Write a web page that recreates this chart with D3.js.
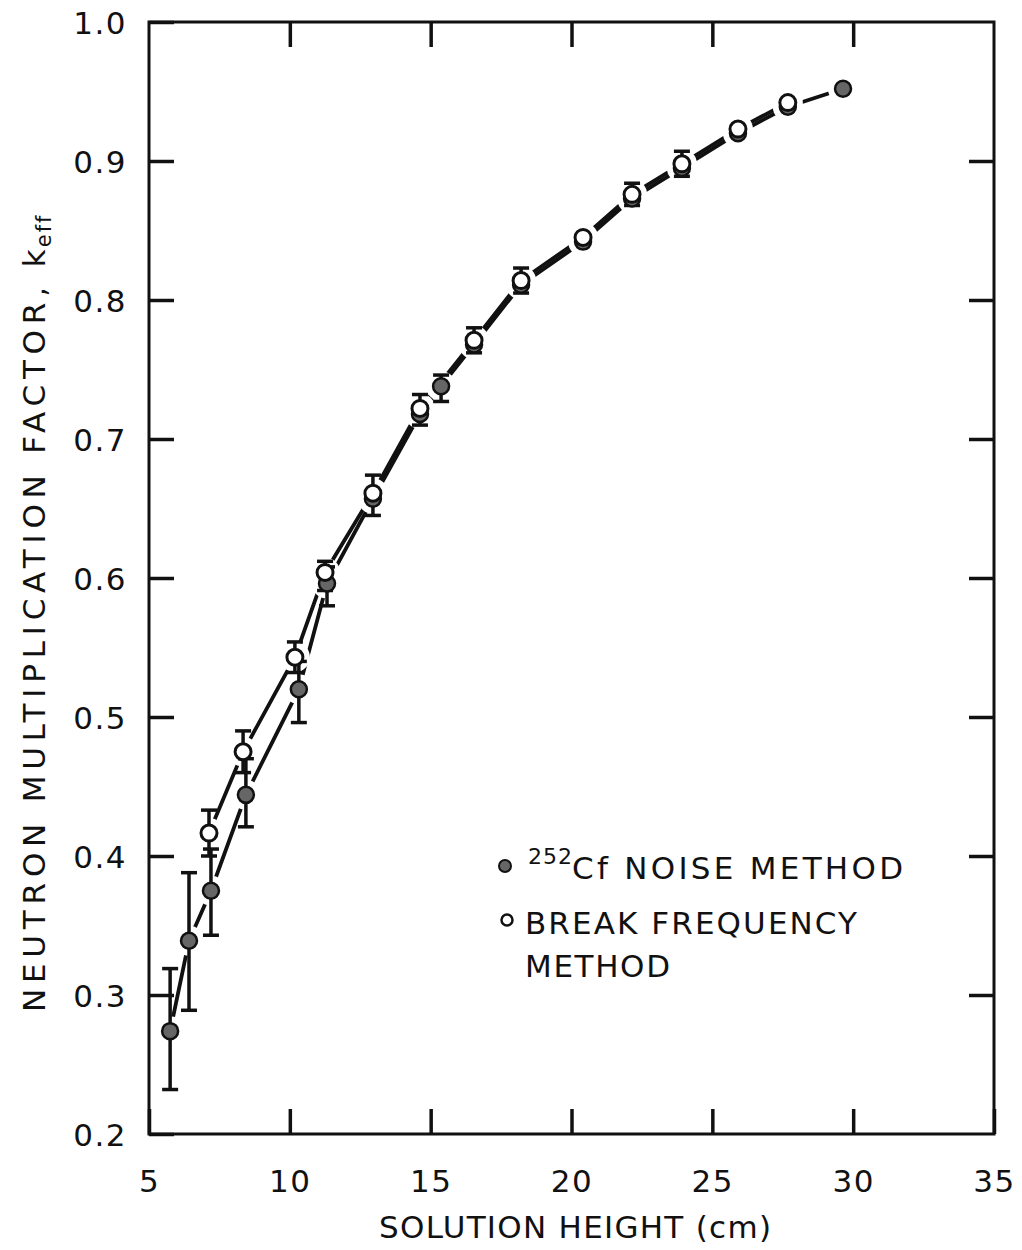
<!DOCTYPE html>
<html>
<head>
<meta charset="utf-8">
<script src="https://cdn.jsdelivr.net/npm/d3@7"></script>
<style>
  body { margin: 0; background: #fff; }
  svg { display: block; }
  text { font-family: "DejaVu Sans", sans-serif; fill: #111; }
</style>
</head>
<body>
<svg id="chart" width="1022" height="1250"></svg>
<script>
// 252Cf noise method: solution height (cm), k_eff, error-bar limits
const cfHeight = [5.75, 6.42, 7.20, 8.44, 10.32, 11.32, 12.95, 14.62, 15.37, 16.54, 18.21, 20.41, 22.15, 23.92, 25.91, 27.68, 29.64];
const cfK      = [0.274, 0.339, 0.375, 0.444, 0.520, 0.596, 0.657, 0.718, 0.738, 0.768, 0.811, 0.842, 0.873, 0.895, 0.920, 0.939, 0.952];
const cfLow    = [0.232, 0.289, 0.343, 0.421, 0.496, 0.580, null, null, 0.727, null, null, null, null, null, null, null, null];
const cfHigh   = [0.319, 0.388, 0.405, 0.470, 0.540, 0.608, null, null, 0.746, null, null, null, null, null, null, null, null];

// Break frequency method
const bfHeight = [7.13, 8.34, 10.18, 11.25, 12.95, 14.62, 16.54, 18.21, 20.41, 22.15, 23.92, 25.91, 27.68];
const bfK      = [0.4165, 0.475, 0.543, 0.604, 0.661, 0.722, 0.771, 0.814, 0.845, 0.876, 0.898, 0.923, 0.942];
const bfLow    = [0.400, 0.460, 0.532, 0.591, 0.645, 0.710, 0.762, 0.805, null, 0.868, 0.889, null, null];
const bfHigh   = [0.433, 0.490, 0.554, 0.612, 0.674, 0.732, 0.780, 0.823, null, 0.884, 0.907, null, null];

// Axis ticks and labels
const xTicks = [5, 10, 15, 20, 25, 30, 35];
const xTickLabels = ["5", "10", "15", "20", "25", "30", "35"];
const yTicks = [0.2, 0.3, 0.4, 0.5, 0.6, 0.7, 0.8, 0.9, 1.0];
const yTickLabels = ["0.2", "0.3", "0.4", "0.5", "0.6", "0.7", "0.8", "0.9", "1.0"];
const innerXTicks = [10, 15, 20, 25, 30];
const innerYTicks = [0.3, 0.4, 0.5, 0.6, 0.7, 0.8, 0.9];

const frameLeft = 149, frameRight = 994, frameTop = 22, frameBottom = 1134;
const svg = d3.select("#chart");

const x = d3.scaleLinear().domain([5, 35]).range([frameLeft, frameRight]);
const y = d3.scaleLinear().domain([0.2, 1.0]).range([frameBottom, frameTop]);

const cf = cfHeight.map((h, i) => ({ h, k: cfK[i], lo: cfLow[i], hi: cfHigh[i] }));
const bf = bfHeight.map((h, i) => ({ h, k: bfK[i], lo: bfLow[i], hi: bfHigh[i] }));

const TICK = 25;
function styleAxis(g) {
  g.select(".domain").remove();
  g.selectAll(".tick line").attr("stroke", "#111").attr("stroke-width", 3.5);
  g.selectAll(".tick text").attr("font-size", 31).attr("letter-spacing", 1.5)
    .style("font-family", '"DejaVu Sans", sans-serif').attr("fill", "#111");
}

// Bottom axis with labels
svg.append("g")
  .attr("transform", `translate(0,${frameBottom})`)
  .call(d3.axisBottom(x).tickValues(xTicks).tickSize(-TICK).tickPadding(0)
    .tickFormat((d, i) => xTickLabels[i]))
  .call(styleAxis)
  .call(g => g.selectAll(".tick text").attr("y", 58).attr("dy", 0));

// Left axis with labels
svg.append("g")
  .attr("transform", `translate(${frameLeft},0)`)
  .call(d3.axisLeft(y).tickValues(yTicks).tickSize(-TICK).tickPadding(22)
    .tickFormat((d, i) => yTickLabels[i]))
  .call(styleAxis)
  .call(g => g.selectAll(".tick text").attr("dy", "0.36em"));

// Top and right axes: inward ticks only
svg.append("g")
  .attr("transform", `translate(0,${frameTop})`)
  .call(d3.axisTop(x).tickValues(innerXTicks).tickSize(-TICK).tickFormat(""))
  .call(styleAxis);
svg.append("g")
  .attr("transform", `translate(${frameRight},0)`)
  .call(d3.axisRight(y).tickValues(innerYTicks).tickSize(-TICK).tickFormat(""))
  .call(styleAxis);

// Plot frame
svg.append("rect")
  .attr("x", frameLeft).attr("y", frameTop)
  .attr("width", frameRight - frameLeft).attr("height", frameBottom - frameTop)
  .attr("fill", "none").attr("stroke", "#111").attr("stroke-width", 3);

// Connecting curves
const line = d3.line().x(d => x(d.h)).y(d => y(d.k));
const plot = svg.append("g");
[cf, bf].forEach(series => {
  plot.append("path").datum(series)
    .attr("d", line)
    .attr("fill", "none").attr("stroke", "#111")
    .attr("stroke-width", 3.8).attr("stroke-linecap", "round");
});

// White halos open gaps in the curves around each point
plot.selectAll("circle.halo")
  .data(cf.concat(bf))
  .join("circle")
  .attr("class", "halo")
  .attr("cx", d => x(d.h)).attr("cy", d => y(d.k))
  .attr("r", 15).attr("fill", "#fff");

// Error bars
function errorBars(series) {
  const withErr = series.filter(d => d.lo != null);
  const g = plot.append("g").attr("stroke", "#111").attr("stroke-width", 3.5);
  g.selectAll("line.stem").data(withErr).join("line")
    .attr("class", "stem")
    .attr("x1", d => x(d.h)).attr("x2", d => x(d.h))
    .attr("y1", d => y(d.lo)).attr("y2", d => y(d.hi));
  g.selectAll("line.capLo").data(withErr).join("line")
    .attr("class", "capLo")
    .attr("x1", d => x(d.h) - 8).attr("x2", d => x(d.h) + 8)
    .attr("y1", d => y(d.lo)).attr("y2", d => y(d.lo));
  g.selectAll("line.capHi").data(withErr).join("line")
    .attr("class", "capHi")
    .attr("x1", d => x(d.h) - 8).attr("x2", d => x(d.h) + 8)
    .attr("y1", d => y(d.hi)).attr("y2", d => y(d.hi));
}
errorBars(cf);
errorBars(bf);

// Markers: filled for the 252Cf method, open for the break-frequency method
plot.selectAll("circle.cf").data(cf).join("circle")
  .attr("class", "cf")
  .attr("cx", d => x(d.h)).attr("cy", d => y(d.k))
  .attr("r", 8).attr("fill", "#666").attr("stroke", "#111").attr("stroke-width", 2.5);
plot.selectAll("circle.bf").data(bf).join("circle")
  .attr("class", "bf")
  .attr("cx", d => x(d.h)).attr("cy", d => y(d.k))
  .attr("r", 8).attr("fill", "#fff").attr("stroke", "#111").attr("stroke-width", 3);

// Legend
const legend = svg.append("g");
legend.append("circle").attr("cx", 505).attr("cy", 866).attr("r", 6)
  .attr("fill", "#666").attr("stroke", "#111").attr("stroke-width", 2);
legend.append("text")
  .attr("font-size", 22).attr("x", 528).attr("y", 864).attr("letter-spacing", 1)
  .text("252");
legend.append("text")
  .attr("font-size", 31).attr("x", 572).attr("y", 879)
  .attr("textLength", 331).attr("lengthAdjust", "spacing")
  .text("Cf NOISE METHOD");
legend.append("circle").attr("cx", 507).attr("cy", 920).attr("r", 5.5)
  .attr("fill", "#fff").attr("stroke", "#111").attr("stroke-width", 2.5);
legend.append("text")
  .attr("font-size", 31).attr("x", 525).attr("y", 934)
  .attr("textLength", 332).attr("lengthAdjust", "spacing")
  .text("BREAK FREQUENCY");
legend.append("text")
  .attr("font-size", 31).attr("x", 525).attr("y", 977)
  .attr("textLength", 145).attr("lengthAdjust", "spacing")
  .text("METHOD");

// Axis titles
svg.append("text")
  .attr("x", 575).attr("y", 1238)
  .attr("text-anchor", "middle").attr("font-size", 31)
  .attr("textLength", 392).attr("lengthAdjust", "spacing")
  .text("SOLUTION HEIGHT (cm)");

const yTitle = svg.append("text")
  .attr("transform", "translate(45,1012) rotate(-90)")
  .attr("font-size", 31);
yTitle.append("tspan")
  .attr("textLength", 725).attr("lengthAdjust", "spacing")
  .text("NEUTRON MULTIPLICATION FACTOR,");
yTitle.append("tspan").attr("dx", 14).text("k");
yTitle.append("tspan").attr("font-size", 21).attr("dy", 6).attr("dx", 2)
  .attr("letter-spacing", 2).text("eff");
</script>
</body>
</html>
